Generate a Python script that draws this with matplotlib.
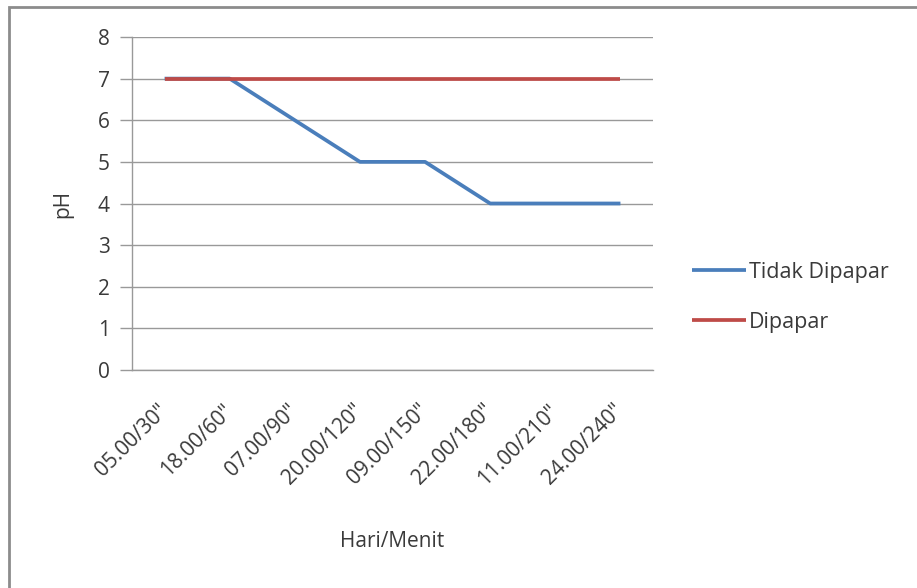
import matplotlib.pyplot as plt
from matplotlib.patches import Rectangle

plt.rcParams['font.family'] = ['Open Sans', 'DejaVu Sans']

waktu = ['05.00/30"', '18.00/60"', '07.00/90"', '20.00/120"',
         '09.00/150"', '22.00/180"', '11.00/210"', '24.00/240"']
tidak_dipapar = [7, 7, 6, 5, 5, 4, 4, 4]
dipapar = [7, 7, 7, 7, 7, 7, 7, 7]

W, H = 917, 588
FS = 15
TXT = '#3a3a3a'
GRID = '#999999'

fig = plt.figure(figsize=(W / 100, H / 100), dpi=100)
ax = fig.add_axes([132 / W, 1 - 370 / H, (653 - 132) / W, (370 - 37) / H])

x = range(len(waktu))
ax.plot(x, tidak_dipapar, color='#4A7EBB', lw=2.7, label='Tidak Dipapar',
        solid_capstyle='butt', zorder=3)
ax.plot(x, dipapar, color='#BE4B48', lw=2.7, label='Dipapar',
        solid_capstyle='butt', zorder=3)

ax.set_xlim(-0.5, len(waktu) - 0.5)
ax.set_ylim(0, 8)
ax.set_yticks(range(0, 9))
ax.set_xticks(list(x))
ax.set_xticklabels(waktu, rotation=45, ha='right', va='center',
                   rotation_mode='anchor')

ax.grid(axis='y', color=GRID, lw=1)
ax.set_axisbelow(True)
for side in ['top', 'right']:
    ax.spines[side].set_visible(False)
for side in ['left', 'bottom']:
    ax.spines[side].set_color(GRID)
    ax.spines[side].set_linewidth(1)

ax.tick_params(axis='y', length=9, width=1, color=GRID, pad=7,
               labelsize=FS, labelcolor=TXT)
ax.tick_params(axis='x', length=0, pad=27, labelsize=FS, labelcolor=TXT)

ax.set_ylabel('pH', fontsize=FS, color=TXT, labelpad=18)
ax.set_xlabel('Hari/Menit', fontsize=FS, color=TXT, labelpad=30)

fig.legend(loc='center left', bbox_to_anchor=(692 / W, 1 - 297.5 / H),
           frameon=False, fontsize=15.5, handlelength=2.5, handletextpad=0.15,
           labelspacing=1.35, borderpad=0, borderaxespad=0,
           labelcolor=TXT)

# outer chart frame
fig.patches.append(Rectangle((8.5 / W, -0.1), 1.2, 1 - 7.5 / H + 0.1,
                             transform=fig.transFigure, fill=False,
                             edgecolor='#8c8c8c', lw=2))

fig.savefig('out.png', dpi=100)
